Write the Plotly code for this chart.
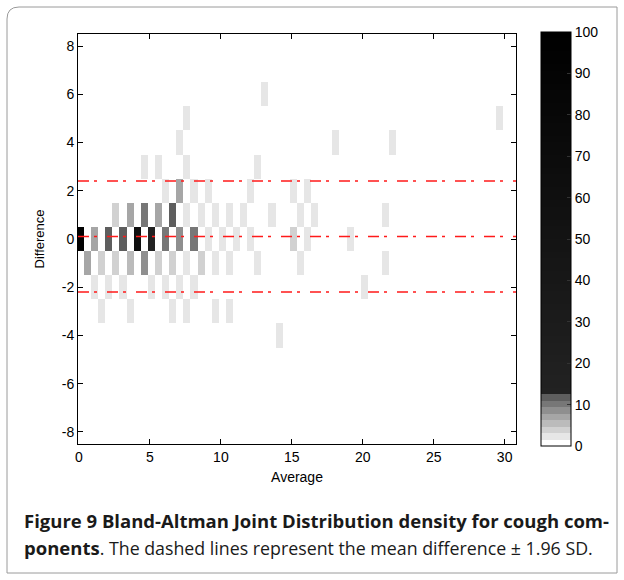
import numpy as np
import plotly.graph_objects as go

# ---------------- data ----------------
# Occupied cells of the Bland-Altman joint distribution (average, difference, count)
cell_avg = [
    # difference 0
    0, 1, 2, 3, 4, 5, 6, 7, 8, 9, 10, 11, 12, 15, 16, 19,
    # difference +1
    2.5, 3.5, 4.5, 5.5, 6.5, 7.5, 8.5, 9.5, 10.5, 11.5, 13.5, 15.5, 16.5, 21.5,
    # difference -1
    0.5, 1.5, 2.5, 3.5, 4.5, 5.5, 6.5, 7.5, 8.5, 9.5, 10.5, 12.5, 15.5, 21.5,
    # difference +2
    6, 7, 8, 9, 12, 15, 16,
    # difference +3
    4.5, 5.5, 7.5, 12.5,
    # difference +4
    7, 18, 22,
    # difference +5
    7.5, 29.5,
    # difference +6
    13,
    # difference -2
    1, 2, 3, 5, 6, 7, 8, 20,
    # difference -3
    1.5, 3.5, 6.5, 7.5, 9.5, 10.5,
    # difference -4
    14,
]
cell_diff = (
    [0] * 16 + [1] * 14 + [-1] * 14 + [2] * 7 + [3] * 4 + [4] * 3
    + [5] * 2 + [6] * 1 + [-2] * 8 + [-3] * 6 + [-4] * 1
)
cell_count = [
    95, 7, 12, 12, 60, 14, 10, 9, 10, 2, 2, 2, 2, 4, 2, 2,
    4, 7, 10, 7, 12, 2, 2, 2, 2, 2, 2, 2, 2, 2,
    7, 4, 4, 5, 9, 4, 4, 2, 4, 2, 2, 2, 2, 2,
    2, 7, 2, 2, 2, 2, 2,
    2, 2, 2, 2,
    2, 2, 2,
    2, 2,
    2,
    2, 2, 2, 2, 2, 2, 2, 2,
    2, 2, 2, 2, 2, 2,
    2,
]

mean_diff = 0.1
loa_upper = 2.4
loa_lower = -2.2

x_tickvals = [0, 5, 10, 15, 20, 25, 30]
x_ticktext = ["0", "5", "10", "15", "20", "25", "30"]
y_tickvals = [-8, -6, -4, -2, 0, 2, 4, 6, 8]
y_ticktext = ["-8", "-6", "-4", "-2", "0", "2", "4", "6", "8"]
cbar_tickvals = [0, 10, 20, 30, 40, 50, 60, 70, 80, 90, 100]

caption_bold = "Figure 9 Bland-Altman Joint Distribution density for cough com-"
caption_line2_bold = "ponents"
caption_line2_rest = ". The dashed lines represent the mean difference \u00b1 1.96 SD."

# ---------------- grid ----------------
x_centers = np.arange(0, 31, 0.5)
y_centers = np.arange(-8, 9, 1)
z = [[None for _ in x_centers] for _ in y_centers]
for a, d, c in zip(cell_avg, cell_diff, cell_count):
    xi = int(round(a * 2))
    yi = int(d + 8)
    z[yi][xi] = c

x_shift = 0.1  # bin alignment of the original image
x_range = [-0.07, 30.8]
y_range = [-8.5, 8.5]

# ---------------- colormap (64 steps over 0..100) ----------------
greys = ["#FFFFFF", "#E6E6E6", "#D1D1D1", "#BBBBBB", "#A6A6A6", "#8F8F8F", "#777777", "#5E5E5E"]
n_levels = 64
colors = []
for k in range(n_levels):
    if k < len(greys):
        colors.append(greys[k])
    else:
        t = (k - len(greys)) / (n_levels - len(greys) - 1)
        g = int(round(0x22 * (1 - t)))
        colors.append("#%02x%02x%02x" % (g, g, g))
colorscale = []
for k, col in enumerate(colors):
    colorscale.append([k / n_levels, col])
    colorscale.append([(k + 1) / n_levels, col])

# ---------------- figure ----------------
W, H = 624, 580
L, R, T, B = 78, 108, 34, 136
pw, ph = W - L - R, H - T - B
FONT = "Liberation Sans, Arial, sans-serif"


def px2paper(xp, yp):
    return (xp - L) / pw, 1 - (yp - T) / ph


fig = go.Figure()
fig.add_trace(go.Heatmap(
    x=x_centers + x_shift, y=y_centers, z=z,
    zmin=0, zmax=100, colorscale=colorscale, zsmooth=False,
    hoverongaps=False,
    colorbar=dict(
        x=px2paper(541, 0)[0], xanchor="left", xpad=0,
        y=0.5, yanchor="middle", ypad=0,
        lenmode="pixels", len=414, thickness=30,
        outlinecolor="black", outlinewidth=1,
        tickvals=cbar_tickvals, ticks="inside", ticklen=4, tickcolor="#333",
        tickfont=dict(family=FONT, size=14, color="black"),
    ),
))

for v in [loa_upper, mean_diff, loa_lower]:
    fig.add_trace(go.Scatter(
        x=x_range, y=[v, v], mode="lines",
        line=dict(color="#FF1a1a", width=1.5, dash="11px,5px,3px,10px"),
        showlegend=False, hoverinfo="skip",
    ))

axis_common = dict(
    showline=True, linecolor="black", linewidth=1, mirror="ticks",
    ticks="inside", ticklen=5, tickcolor="black", showgrid=False, zeroline=False,
    automargin=False,
    tickfont=dict(family=FONT, size=14, color="black"),
)
fig.update_xaxes(range=x_range, tickvals=x_tickvals, ticktext=x_ticktext,
                 title=dict(text="Average", standoff=8,
                            font=dict(family=FONT, size=14, color="black")),
                 **axis_common)
fig.update_yaxes(range=y_range, tickvals=y_tickvals, ticktext=y_ticktext,
                 title=dict(text="Difference", standoff=14,
                            font=dict(family=FONT, size=13, color="black")),
                 **axis_common)

# caption
cx, cy1 = px2paper(22, 520)
_, cy2 = px2paper(22, 547)
fig.add_annotation(x=cx, y=cy1, xref="paper", yref="paper", xanchor="left", yanchor="middle",
                   showarrow=False, align="left",
                   text="<b>" + caption_bold + "</b>",
                   font=dict(family="Open Sans", size=18.5, color="#1a1a1a"))
fig.add_annotation(x=cx, y=cy2, xref="paper", yref="paper", xanchor="left", yanchor="middle",
                   showarrow=False, align="left",
                   text="<b>" + caption_line2_bold + "</b>"
                        + "<span style='font-size:17.8px'>" + caption_line2_rest + "</span>",
                   font=dict(family="Open Sans", size=18.5, color="#1a1a1a"))

# rounded frame around the figure
x0, y0 = px2paper(7, 7)
x1, y1 = px2paper(617, 573)
rx = 12 / pw
ry = 12 / ph
path = (
    f"M {x0 + rx} {y0} L {x1} {y0} L {x1} {y1} L {x0} {y1} L {x0} {y0 - ry} "
    f"Q {x0} {y0} {x0 + rx} {y0} Z"
)
fig.add_shape(type="path", path=path, xref="paper", yref="paper",
              line=dict(color="#9a9a9a", width=1), layer="below")

fig.update_layout(
    width=W, height=H, autosize=False,
    margin=dict(l=L, r=R, t=T, b=B),
    paper_bgcolor="white", plot_bgcolor="white",
    showlegend=False,
)

fig.write_html("out.html", config={"displayModeBar": False},
               post_script="document.body.style.margin='0px';")
